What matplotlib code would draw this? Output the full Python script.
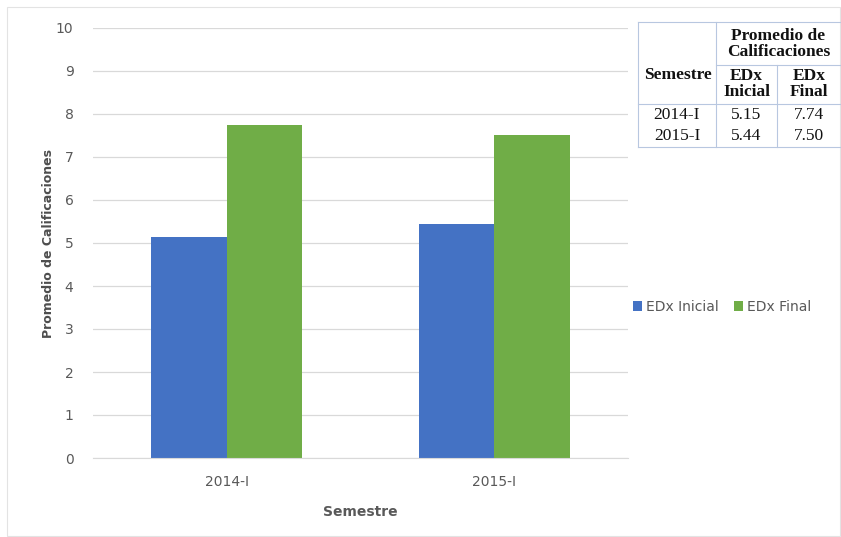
import matplotlib
matplotlib.use("Agg")
import numpy as np
import matplotlib.pyplot as plt
from matplotlib.patches import Rectangle
from matplotlib.lines import Line2D

semestres = ["2014-I", "2015-I"]
edx_inicial = [5.15, 5.44]
edx_final = [7.74, 7.50]
series_names = ["EDx Inicial", "EDx Final"]
colors = ["#4472C4", "#70AD47"]

gray = "#595959"
W, H = 841, 537

fig = plt.figure(figsize=(W / 100, H / 100), dpi=100)
fig.patch.set_facecolor("white")

def fx(px):
    return px / W

def fy(py):
    return 1 - py / H

# outer frame of the chart object
fig.add_artist(Rectangle((fx(7), fy(536)), fx(840) - fx(7), fy(7) - fy(536),
                         transform=fig.transFigure, fill=False,
                         edgecolor="#e3e3e3", lw=0.8))

ax = fig.add_axes([fx(93), fy(458), fx(628) - fx(93), fy(28) - fy(458)])
x = np.arange(len(semestres))
w = 0.282
ax.bar(x - w / 2, edx_inicial, w, color=colors[0], label=series_names[0], zorder=2)
ax.bar(x + w / 2, edx_final, w, color=colors[1], label=series_names[1], zorder=2)

ax.set_xlim(-0.5, 1.5)
ax.set_ylim(0, 10)
ax.set_yticks(range(0, 11))
ax.set_xticks(x)
ax.set_xticklabels(semestres)
ax.grid(axis="y", color="#d9d9d9", lw=0.9, zorder=0)
for s in ["top", "right", "left"]:
    ax.spines[s].set_visible(False)
ax.spines["bottom"].set_color("#d9d9d9")
ax.tick_params(length=0, colors=gray, labelsize=10)
ax.tick_params(axis="y", pad=14)
ax.tick_params(axis="x", pad=12)
ax.set_ylabel("Promedio de Calificaciones", color="#4d4d4d", fontsize=9,
              fontweight="bold", labelpad=1)
ax.set_xlabel("Semestre", color=gray, fontsize=10, fontweight="bold", labelpad=12)

leg = fig.legend(loc="center left", bbox_to_anchor=(fx(620), fy(307)), ncol=2,
                 frameon=False, fontsize=10, handlelength=0.7, handleheight=0.7,
                 handletextpad=0.25, columnspacing=1.1)
for t in leg.get_texts():
    t.set_color(gray)

# summary table drawn in figure pixels
serif = "Liberation Serif"
line_c = "#b8c7e0"
cols = [638, 716, 777, 841]
rows = [22, 65, 104, 126, 147]

def hline(y, x0, x1):
    fig.add_artist(Line2D([fx(x0), fx(x1)], [fy(y), fy(y)], color=line_c, lw=0.8,
                          transform=fig.transFigure))

def vline(xp, y0, y1):
    fig.add_artist(Line2D([fx(xp), fx(xp)], [fy(y0), fy(y1)], color=line_c, lw=0.8,
                          transform=fig.transFigure))

hline(rows[0], cols[0], cols[3])
hline(rows[1], cols[1], cols[3])
hline(rows[2], cols[0], cols[3])
hline(rows[4], cols[0], cols[3])
vline(cols[0], rows[0], rows[4])
vline(cols[1], rows[0], rows[4])
vline(cols[2], rows[1], rows[4])

def cell(text, xc, yc, bold=False):
    fig.text(fx(xc), fy(yc), text, ha="center", va="center", family=serif,
             fontsize=12.5, fontweight="bold" if bold else "normal",
             color="#111111", linespacing=1.0)

cell("Promedio de\nCalificaciones", (cols[1] + cols[3]) / 2, (rows[0] + rows[1]) / 2, True)
cell("Semestre", (cols[0] + cols[1]) / 2 + 1, (rows[0] + rows[2]) / 2 + 12, True)
cell("EDx\nInicial", (cols[1] + cols[2]) / 2, (rows[1] + rows[2]) / 2, True)
cell("EDx\nFinal", (cols[2] + cols[3]) / 2, (rows[1] + rows[2]) / 2, True)
for i, sem in enumerate(semestres):
    yc = (rows[2 + i] + rows[3 + i]) / 2
    cell(sem, (cols[0] + cols[1]) / 2, yc)
    cell(f"{edx_inicial[i]:.2f}", (cols[1] + cols[2]) / 2, yc)
    cell(f"{edx_final[i]:.2f}", (cols[2] + cols[3]) / 2, yc)

fig.savefig("out.png", dpi=100)
